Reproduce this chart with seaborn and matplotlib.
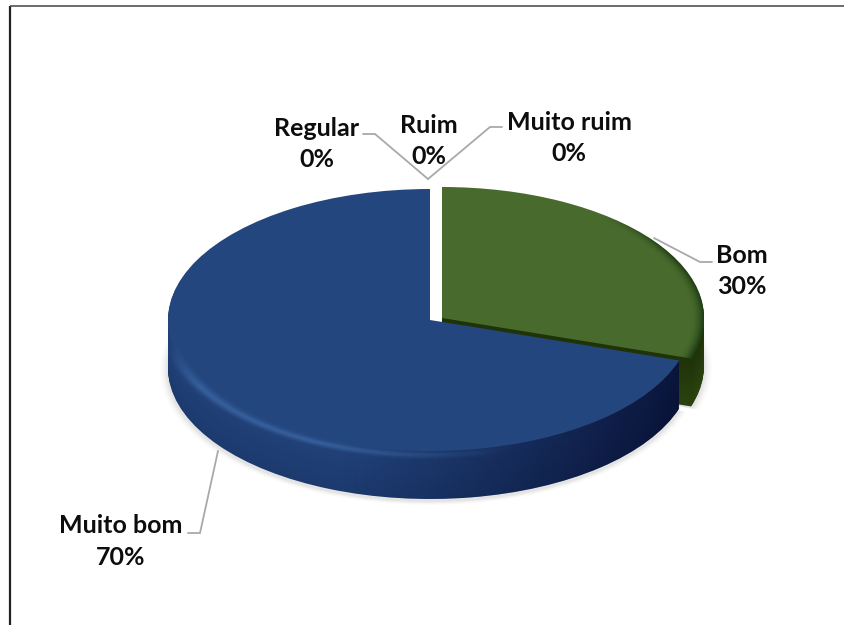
import numpy as np
import matplotlib
matplotlib.use("Agg")
import matplotlib.pyplot as plt
from matplotlib.path import Path
from matplotlib.colors import to_rgb
import seaborn as sns

# --- data (clockwise from 12 o'clock) ---
categories = ["Bom", "Muito bom", "Regular", "Ruim", "Muito ruim"]
percent = [30, 70, 0, 0, 0]
tick_labels = [f"{c}\n{p}%" for c, p in zip(categories, percent)]

sns.set_theme(style="white")
plt.rcParams["font.family"] = ["Lato", "DejaVu Sans"]

W, H = 845, 625
SQ = 2.0  # one pixel of height = SQ data units: this squashes the pie into an ellipse


def Y(py):
    return (H - py) * SQ


fig = plt.figure(figsize=(W / 100, H / 100), dpi=100, facecolor="white")
ax = fig.add_axes([0, 0, 1, 1])

RADIUS = 262
centers = {"Bom": (442, 318), "Muito bom": (430, 320)}
THICK = 48
GREEN_TOP, BLUE_TOP = "#486b2d", "#24467e"


def draw_pie(only, color, dy=0, grow=0, alpha=1.0, z=1):
    """One squashed pie layer showing a single category's slice."""
    wedges, _ = ax.pie(percent, startangle=90, counterclock=False, radius=RADIUS + grow,
                       colors=[color] * len(percent), center=(0, 0),
                       wedgeprops=dict(linewidth=0, alpha=alpha, zorder=z))
    keep = None
    for w, c in zip(wedges, categories):
        if c == only:
            cx, cy = centers[c]
            w.set_center((cx, Y(cy + dy)))
            keep = w
        else:
            w.remove()
    return keep


def wedge_path(w):
    return w.get_patch_transform().transform_path(w.get_path())


def mix(a, b, t):
    a, b = np.array(to_rgb(a)), np.array(to_rgb(b))
    return tuple(a + (b - a) * t)


def set_limits():
    ax.set_aspect("auto")
    ax.set_xlim(0, W)
    ax.set_ylim(0, H * SQ)
    ax.axis("off")


# soft shadow
for g, a in zip(range(8, 0, -2), [0.015, 0.02, 0.03, 0.04]):
    draw_pie("Muito bom", "#000000", dy=THICK + 2, grow=g, alpha=a, z=1)
    draw_pie("Bom", "#000000", dy=THICK + 2, grow=g, alpha=a, z=1)

# green wall
for d in range(THICK, 0, -1):
    draw_pie("Bom", mix("#2a430f", "#1f3208", 1 - d / THICK), dy=d, z=2)
green = draw_pie("Bom", GREEN_TOP, z=3)

# green face: dark rim on the right side only
gx, gy = np.meshgrid(np.linspace(430, 720, 200), np.linspace(180, 380, 140))
rg = np.hypot((gx - 442) / RADIUS, (gy - 318) / 131)
gs = np.zeros(gx.shape + (4,))
gs[..., 1] = 0.1
gs[..., 3] = np.clip((rg - 0.95) / 0.05, 0, 1) ** 2 * 0.55 * np.clip((gx - 600) / 70, 0, 1)
imgs = ax.imshow(gs, extent=(430, 720, Y(380), Y(180)), aspect="auto", zorder=3.5,
                 interpolation="bilinear", origin="upper")
imgs.set_clip_path(wedge_path(green), transform=ax.transData)

# blue wall: fades from a lighter upper part to a darker foot
blue_paths = []
for d in range(THICK, 0, -1):
    col = mix("#214279", "#1c3a6e", d / THICK)
    w = draw_pie("Muito bom", col, dy=d, z=4)
    blue_paths.append(wedge_path(w))

# wall darkens to the right
xs = np.linspace(160, 700, 200)
al = np.clip((xs - 340) / 340, 0, 1) ** 1.1 * 0.68
img = np.zeros((1, len(xs), 4))
img[..., 2] = 0.12
img[..., 3] = al
im = ax.imshow(img, extent=(160, 700, Y(520), Y(300)), aspect="auto", zorder=5,
               interpolation="bilinear")
im.set_clip_path(Path.make_compound_path(*blue_paths), transform=ax.transData)

# bevel: soft highlight along the front rim, drawn across the wall's top and the face
top = draw_pie("Muito bom", BLUE_TOP, z=6)
gx, gy = np.meshgrid(np.linspace(160, 700, 540), np.linspace(300, 520, 440))
ell = np.hypot((gx - 430) / RADIUS, (gy - 324) / 131)
dist = np.abs(ell - 1.0)
fade_x = np.clip((520 - gx) / 200, 0, 1)
fade_y = np.clip((gy - 345) / 40, 0, 1)
hl = np.zeros(gx.shape + (4,))
hl[..., 0], hl[..., 1], hl[..., 2] = 0.27, 0.45, 0.70
hl[..., 3] = np.exp(-(dist / 0.022) ** 2) * 0.6 * fade_x * fade_y
im3 = ax.imshow(hl, extent=(160, 700, Y(520), Y(300)), aspect="auto", zorder=7,
                interpolation="bilinear", origin="upper")
im3.set_clip_path(Path.make_compound_path(wedge_path(top), *blue_paths), transform=ax.transData)

# leader lines
leaders = {
    "Regular": ([363, 375, 428], [134, 134, 179]),
    "Muito ruim": ([502, 490, 428], [127, 127, 179]),
    "Bom": ([654, 700, 712], [238, 262, 262]),
    "Muito bom": ([218, 200, 188], [451, 533, 533]),
}
for xp, yp in leaders.values():
    ax.plot(xp, [Y(v) for v in yp], color="#a9a9a9", lw=1.3, zorder=8, solid_joinstyle="miter")

# labels
label_pos = {
    "Regular": (317, 144),
    "Ruim": (429, 141),
    "Muito ruim": (569, 138),
    "Bom": (742, 271),
    "Muito bom": (121, 541.5),
}
for c, t in zip(categories, tick_labels):
    px, py = label_pos[c]
    ax.text(px, Y(py), t, ha="center", va="center", fontsize=18, fontweight="bold",
            color="#0d0d0d", linespacing=1.47, zorder=9)

# frame
ax.plot([10, 10], [Y(6), Y(H)], color="#222222", lw=1.6, zorder=9, solid_capstyle="butt")
ax.plot([10, W], [Y(6), Y(6)], color="#444444", lw=1.1, zorder=9, solid_capstyle="butt")

set_limits()
fig.savefig("out.png", dpi=100, facecolor="white")
